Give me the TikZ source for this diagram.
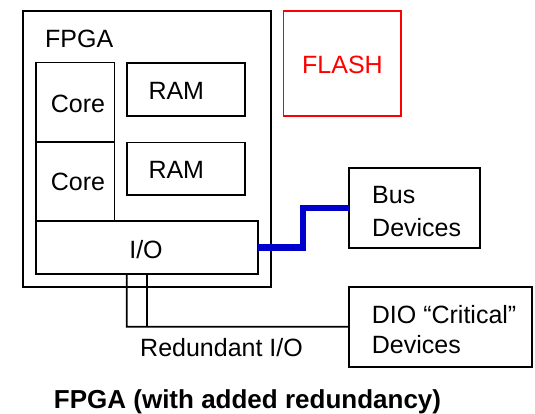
\documentclass[tikz,border=0pt]{standalone}
\usepackage{fontspec}
\setmainfont{Liberation Sans}
\definecolor{busblue}{RGB}{0,0,205}
\definecolor{flashred}{RGB}{255,0,0}
\begin{document}
\begin{tikzpicture}[x=1bp,y=-1bp,
  box/.style={draw, line width=1.6bp, inner sep=0pt, outer sep=0pt, anchor=north west},
  lbl/.style={inner sep=0pt, anchor=base west, font=\fontsize{25bp}{30bp}\selectfont},
  wire/.style={line width=1.6bp},
  bus/.style={line width=6.5bp, busblue}]
\useasboundingbox (0,0) rectangle (535,413);

% FPGA enclosure and its blocks
\node[box, minimum width=248bp, minimum height=276bp] (fpga) at (23,11) {};
\node[lbl] (fpgalbl) at (45,47) {FPGA};
\node[box, minimum width=78.6bp, minimum height=79.4bp] (core1) at (35.7,62.3) {};
\node[box, minimum width=78.6bp, minimum height=79.3bp] (core2) at (35.7,141.7) {};
\node[box, minimum width=118bp, minimum height=52.7bp] (ram1) at (127,63) {};
\node[box, minimum width=118bp, minimum height=52.7bp] (ram2) at (127,142.3) {};
\node[box, minimum width=222bp, minimum height=53bp] (io) at (35.7,221) {};
\node[lbl] (core1lbl) at (50.7,112.3) {Core};
\node[lbl] (core2lbl) at (50.7,190.5) {Core};
\node[lbl] (ram1lbl) at (148.3,99.3) {RAM};
\node[lbl] (ram2lbl) at (148.3,178) {RAM};
\node[lbl, anchor=base] (iolbl) at (146,258) {I/O};

% Flash device
\node[box, draw=flashred, minimum width=117.4bp, minimum height=105.3bp] (flash) at (283.3,10.7) {};
\node[lbl, anchor=base, text=flashred] (flashlbl) at (342.5,73.3) {FLASH};

% External devices
\node[box, minimum width=131bp, minimum height=79.7bp] (busdev) at (349,168) {};
\node[lbl, align=left, anchor=north west] (buslbl) at (372,186.5) {Bus\\[3bp]Devices};
\node[box, minimum width=183bp, minimum height=80bp] (dio) at (349,286.7) {};
\node[lbl, align=left, anchor=north west] (diolbl) at (371.7,305) {DIO “Critical”\\Devices};

% Bus connection
\draw[bus] (io.east) -- ++(45.3,0) coordinate (bend) |- (busdev.west);

% Redundant I/O lines
\coordinate (r1) at (126.7,326.7);
\coordinate (r2) at (146.7,326.7);
\draw[wire] (io.south -| r1) -- (r1) -- (dio.west);
\draw[wire] (io.south -| r2) -- (r2);
\node[lbl] (redlbl) at (140,356) {Redundant I/O};

% Caption
\node[lbl, anchor=base, font=\fontsize{26bp}{30bp}\selectfont\bfseries] (caption) at (247.5,408) {FPGA (with added redundancy)};
\end{tikzpicture}
\end{document}
